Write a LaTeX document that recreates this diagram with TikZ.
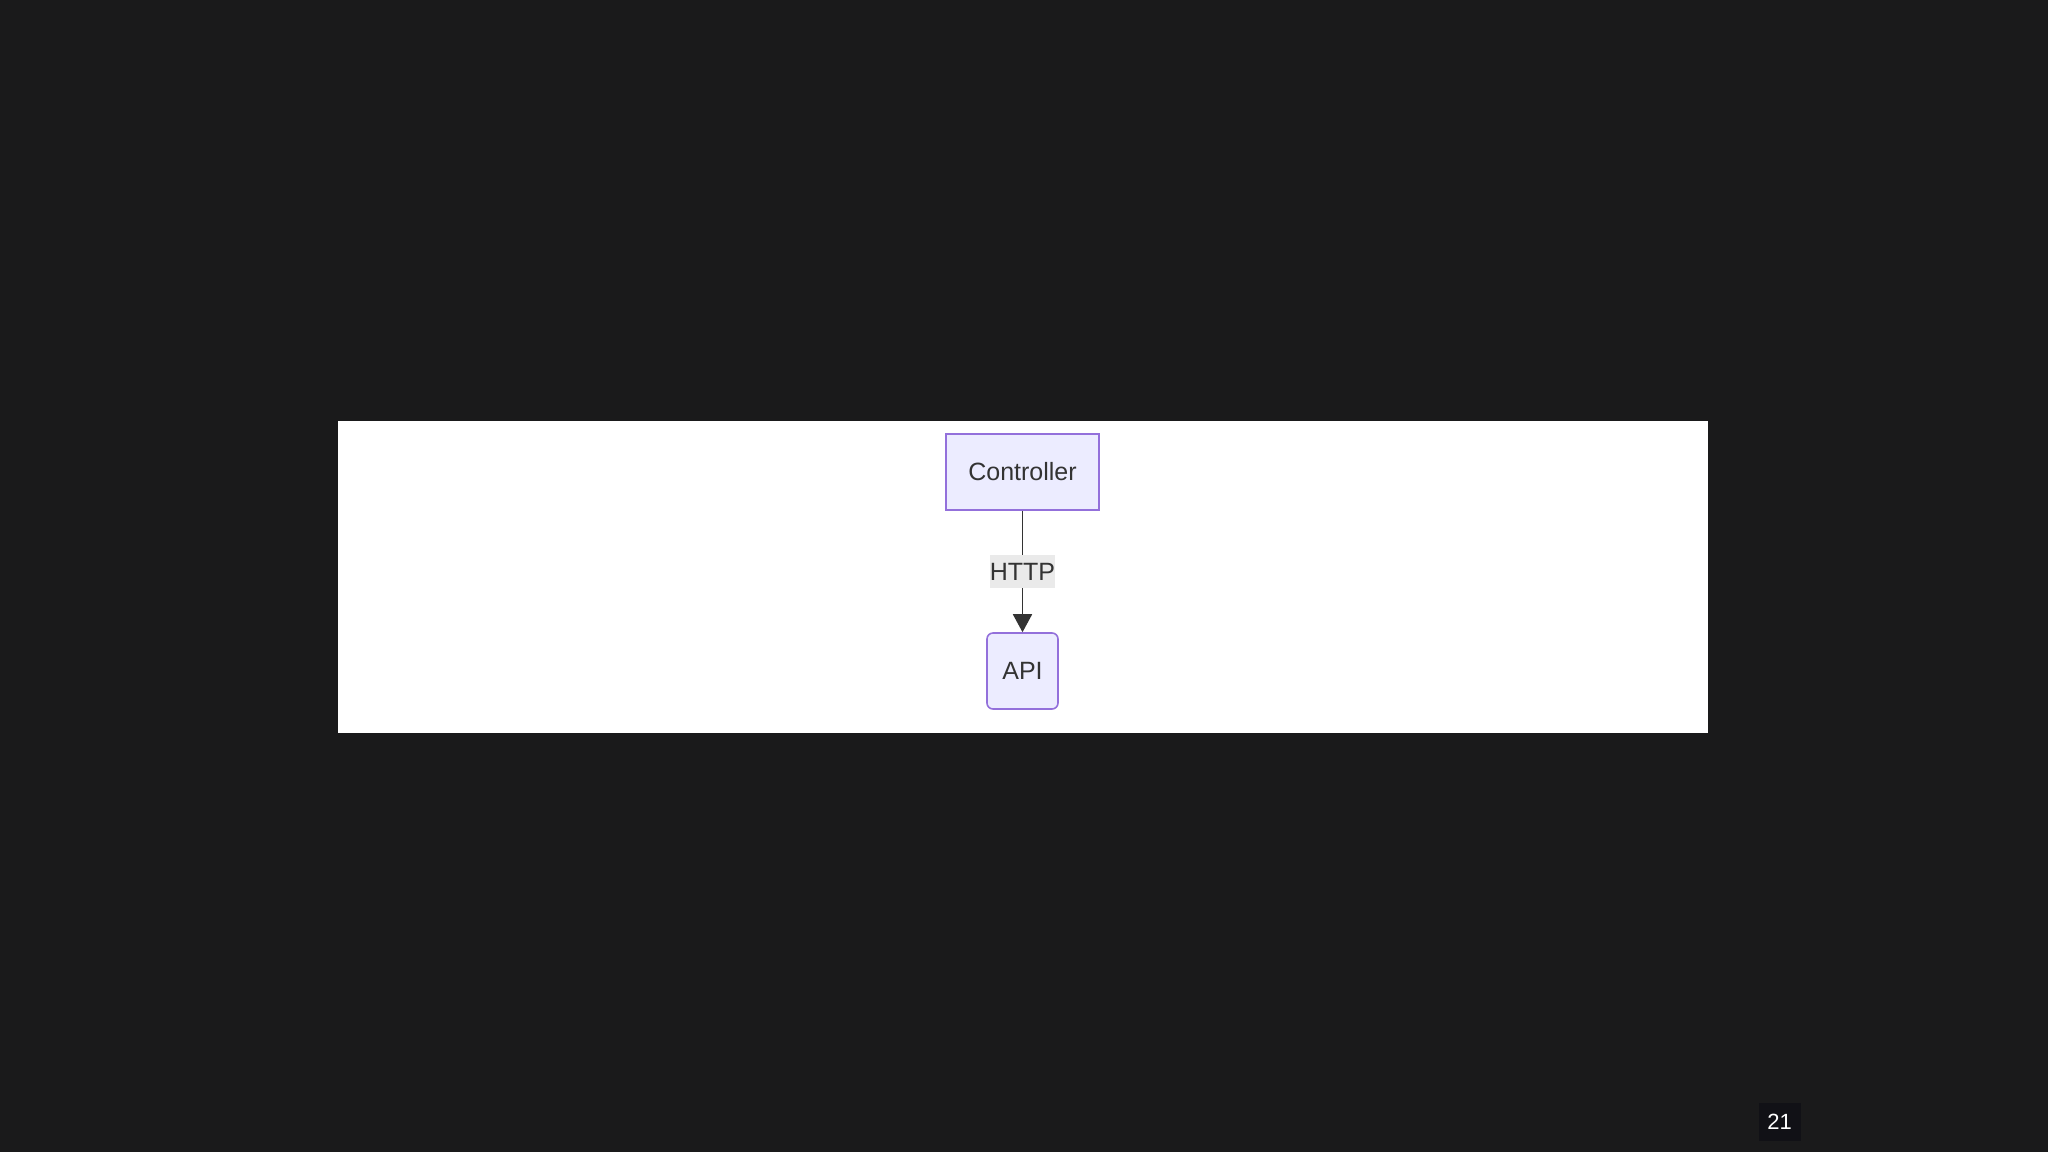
\documentclass[tikz,border=0pt]{standalone}
\usepackage{fontspec}
\setmainfont{Liberation Sans}
\usetikzlibrary{positioning,arrows.meta}
\definecolor{slidebg}{HTML}{1A1A1B}
\definecolor{numbg}{HTML}{111116}
\definecolor{nodefill}{HTML}{ECECFF}
\definecolor{nodeline}{HTML}{9370DB}
\definecolor{textcol}{HTML}{333333}
\definecolor{labelbg}{HTML}{EAEAEA}
\begin{document}
\begin{tikzpicture}[x=1pt,y=-1pt,
    box/.style={draw=nodeline,fill=nodefill,line width=1.6pt,text=textcol,
        font=\fontsize{25}{30}\selectfont,inner sep=0pt},
    edgelabel/.style={fill=labelbg,text=textcol,font=\fontsize{25}{30}\selectfont,
        inner sep=0pt,minimum width=65pt,minimum height=33pt},
    link/.style={draw=textcol,line width=1.8pt,-{Triangle[length=18pt,width=19pt]}}]

    \fill[slidebg] (0,0) rectangle (2048,1152);
    \useasboundingbox (0,0) rectangle (2048,1152);
    \fill[white] (338,421) rectangle (1708,733);

    \node[box,minimum width=153pt,minimum height=76pt] (controller) at (1022.5,472) {Controller};
    \node[box,rounded corners=6pt,minimum width=71pt,minimum height=76pt] (api) at (1022.5,671) {API};
    \draw[link] (controller) -- (api);
    \node[edgelabel] (http) at (1022.5,571.5) {HTTP};

    \fill[numbg] (1759,1103) rectangle (1801,1141);
    \node[text=white,font=\fontsize{22}{26}\selectfont,inner sep=0pt] (page) at (1779.5,1122) {21};

\end{tikzpicture}
\end{document}
